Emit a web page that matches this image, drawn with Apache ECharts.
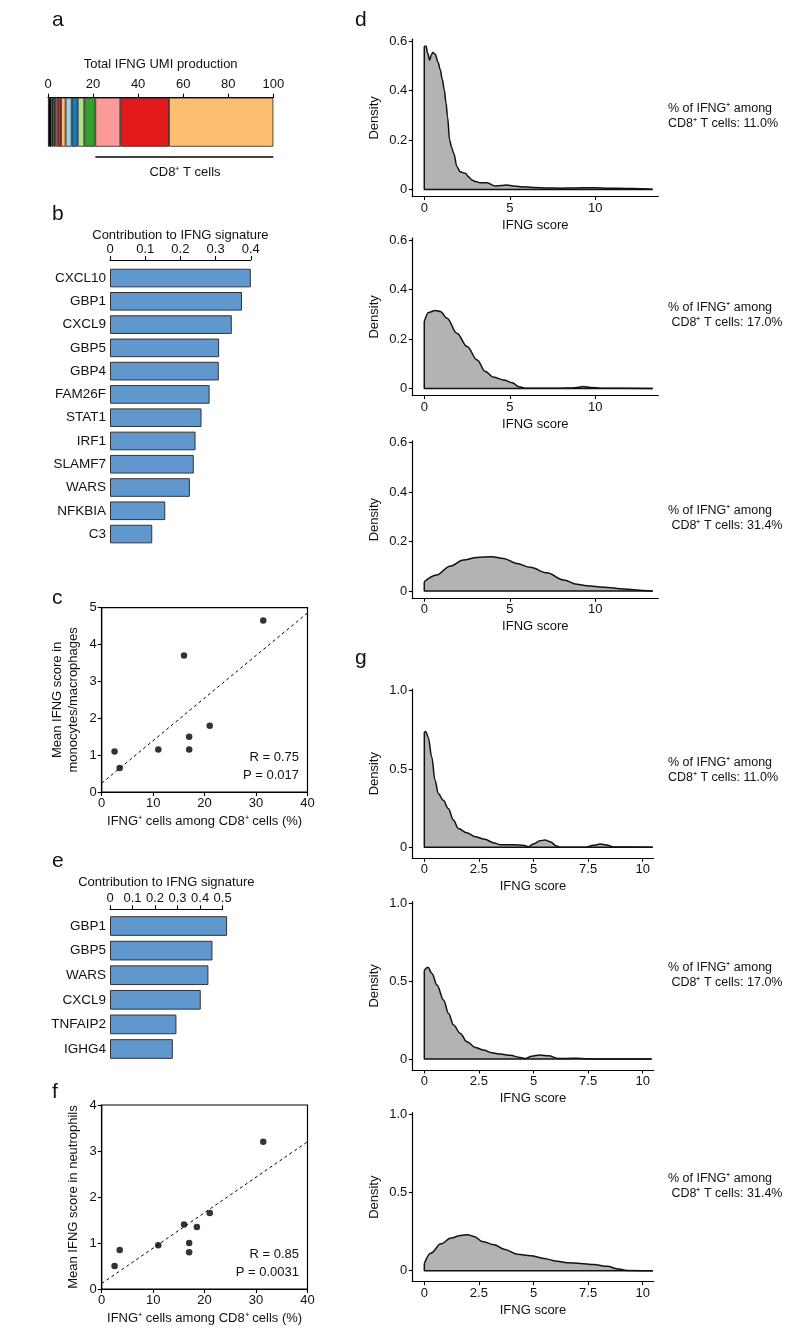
<!DOCTYPE html>
<html><head><meta charset="utf-8">
<script src="https://cdn.jsdelivr.net/npm/echarts@6/dist/echarts.min.js"></script>
<style>html,body{margin:0;padding:0;background:#fff}#c{width:800px;height:1334px}</style>
</head><body><div id="c"></div>
<script>
// ---------------- data ----------------
const aTicks = [0, 20, 40, 60, 80, 100];
const aShares = [1.5, 0.9, 1.0, 0.9, 1.5, 2.0, 2.7, 2.7, 2.9, 4.9, 11.1, 21.6, 46.3];
const aCD8Range = [21, 100];

const bGenes = ['CXCL10','GBP1','CXCL9','GBP5','GBP4','FAM26F','STAT1','IRF1','SLAMF7','WARS','NFKBIA','C3'];
const bValues = [0.400, 0.375, 0.346, 0.310, 0.309, 0.283, 0.260, 0.243, 0.238, 0.227, 0.157, 0.120];

const eGenes = ['GBP1','GBP5','WARS','CXCL9','TNFAIP2','IGHG4'];
const eValues = [0.520, 0.455, 0.437, 0.403, 0.295, 0.279];

const cPoints = [[2.5,1.1],[3.5,0.65],[11,1.15],[16,3.7],[17,1.5],[17,1.15],[21,1.8],[31.4,4.65]];
const fPoints = [[2.5,0.5],[3.5,0.85],[11,0.95],[16,1.4],[17,1.0],[17,0.8],[18.5,1.35],[21,1.65],[31.4,3.2]];
const cStats = ['R = 0.75', 'P = 0.017'];
const fStats = ['R = 0.85', 'P = 0.0031'];
const pctIFNG = ['11.0%', '17.0%', '31.4%'];

const dTicksX = [0, 5, 10];
const dTicksY = [0, 0.2, 0.4, 0.6];
const gTicksX = [0, 2.5, 5, 7.5, 10];
const gTicksY = [0, 0.5, 1.0];

const d1Density = [[0,0.577],[0.1,0.58],[0.2,0.55],[0.31,0.523],[0.42,0.545],[0.5,0.553],[0.64,0.546],[0.8,0.515],[0.94,0.483],[1.05,0.445],[1.17,0.402],[1.27,0.35],[1.36,0.294],[1.48,0.2],[1.6,0.17],[1.72,0.146],[1.91,0.092],[2.1,0.071],[2.4,0.065],[2.6,0.05],[2.79,0.038],[3.0,0.032],[3.27,0.027],[3.66,0.027],[4.15,0.0135],[4.5,0.016],[4.83,0.0175],[5.2,0.014],[5.6,0.011],[6.4,0.008],[7.2,0.006],[7.95,0.005],[8.8,0.006],[9.9,0.007],[10.8,0.005],[11.85,0.004],[12.6,0.003],[13.35,0.001]];
const d2Density = [[0,0.27],[0.25,0.307],[0.64,0.315],[0.94,0.311],[1.33,0.284],[1.91,0.223],[2.5,0.169],[3.09,0.115],[3.57,0.068],[4.06,0.045],[4.65,0.034],[5.14,0.023],[5.53,0.007],[5.92,0.0005],[7.97,0.001],[8.6,0.002],[8.95,0.004],[9.3,0.008],[9.7,0.004],[10.3,0.0005],[13.35,0]];
const d3Density = [[0,0.038],[0.72,0.065],[1.5,0.101],[2.29,0.126],[3.07,0.136],[3.95,0.139],[4.63,0.132],[5.41,0.112],[6.19,0.096],[7.17,0.074],[8.14,0.045],[8.93,0.028],[9.5,0.022],[10.5,0.016],[11.66,0.009],[12.83,0.003],[13.36,0]];
const g1Density = [[0,0.735],[0.06,0.74],[0.18,0.703],[0.34,0.576],[0.49,0.428],[0.64,0.343],[0.87,0.3],[1.1,0.248],[1.33,0.174],[1.56,0.121],[1.94,0.093],[2.32,0.068],[2.78,0.051],[3.16,0.03],[3.47,0.017],[4.08,0.017],[4.53,0.013],[4.76,0.004],[5.0,0.021],[5.3,0.042],[5.53,0.047],[5.76,0.036],[6.06,0.008],[6.2,0.001],[7.4,0.001],[7.74,0.013],[8.05,0.021],[8.35,0.015],[8.66,0.002],[10.46,0]];
const g2Density = [[0,0.57],[0.17,0.589],[0.35,0.55],[0.58,0.475],[0.88,0.379],[1.11,0.293],[1.34,0.218],[1.65,0.165],[1.95,0.111],[2.33,0.075],[2.71,0.058],[3.09,0.041],[3.48,0.032],[3.93,0.024],[4.39,0.011],[4.62,0.004],[4.92,0.019],[5.3,0.026],[5.69,0.021],[6.14,0.004],[6.52,0.004],[6.98,0.006],[7.44,0.002],[7.74,0],[10.41,0]];
const g3Density = [[0,0.045],[0.3,0.113],[0.76,0.172],[1.22,0.209],[1.67,0.226],[1.98,0.23],[2.28,0.219],[2.66,0.187],[3.2,0.166],[3.65,0.138],[4.26,0.106],[4.87,0.096],[5.48,0.079],[6.09,0.06],[6.54,0.051],[7.15,0.047],[7.76,0.04],[8.37,0.028],[8.9,0.011],[9.28,0.002],[10.47,0]];

// ---------------- styling ----------------
const aColors = ['#000000','#1f3d1f','#3a3a3a','#fb9a99','#e31a1c','#fdbf6f','#a6cee3','#1f78b4','#b2df8a','#33a02c','#fb9a99','#e31a1c','#fdbf6f'];
const FONT = '"Liberation Sans", Arial, Helvetica, sans-serif';
const BLUE = '#6097cd';
const GREY = '#b3b3b3';

const chart = echarts.init(document.getElementById('c'), null, {renderer: 'canvas'});
const grids = [], xAxes = [], yAxes = [], series = [], graphics = [];

const lineS = {show: true, onZero: false, lineStyle: {color: '#000', width: 1.2}};
const tickS = (len) => ({show: true, length: len, lineStyle: {color: '#000', width: 1.1}});
const lbl = (extra) => Object.assign({fontSize: 13, color: '#111', fontFamily: FONT}, extra || {});
const nameS = {fontSize: 13, color: '#111', fontFamily: FONT};

function addGrid(g) { grids.push(Object.assign({show: false}, g)); return grids.length - 1; }

// ---- panel a ----
const ga = addGrid({left: 48, top: 97.7, width: 225.3, height: 49});
xAxes.push({gridIndex: ga, type: 'value', position: 'top', min: aTicks[0], max: aTicks[aTicks.length-1], interval: aTicks[1]-aTicks[0],
  axisLine: lineS, axisTick: tickS(4), axisLabel: lbl({margin: 7}), splitLine: {show: false},
  name: 'Total IFNG UMI production', nameLocation: 'middle', nameGap: 27, nameTextStyle: nameS});
yAxes.push({gridIndex: ga, type: 'category', data: ['IFNG'], show: false});
aShares.forEach((v, i) => series.push({type: 'bar', xAxisIndex: xAxes.length-1, yAxisIndex: yAxes.length-1, stack: 'a',
  data: [v], barWidth: '100%', silent: true, itemStyle: {color: aColors[i], borderColor: '#222', borderWidth: 0.8}}));

const ga2 = addGrid({left: 48, top: 156, width: 225.3, height: 2});
xAxes.push({gridIndex: ga2, type: 'value', min: aTicks[0], max: aTicks[aTicks.length-1], show: false});
yAxes.push({gridIndex: ga2, type: 'value', min: -1, max: 1, show: false});
series.push({type: 'line', xAxisIndex: xAxes.length-1, yAxisIndex: yAxes.length-1, data: [[aCD8Range[0], 0], [aCD8Range[1], 0]],
  showSymbol: false, silent: true, lineStyle: {color: '#000', width: 1.5}});

// ---- horizontal bar panels (b, e) ----
function hbar(grid, genes, vals, max, offset, nameGap) {
  const gi = addGrid(grid);
  xAxes.push({gridIndex: gi, type: 'value', position: 'top', offset: offset, min: 0, max: max, interval: 0.1,
    axisLine: lineS, axisTick: tickS(4), axisLabel: lbl({margin: 4}), splitLine: {show: false},
    name: 'Contribution to IFNG signature', nameLocation: 'middle', nameGap: nameGap, nameTextStyle: nameS});
  yAxes.push({gridIndex: gi, type: 'category', data: genes, inverse: true,
    axisLine: {show: false}, axisTick: {show: false}, axisLabel: lbl({margin: 4, fontSize: 13.5})});
  series.push({type: 'bar', xAxisIndex: xAxes.length-1, yAxisIndex: yAxes.length-1, data: vals, barCategoryGap: '20%', clip: false,
    silent: true, itemStyle: {color: BLUE, borderColor: '#333', borderWidth: 1}});
}
hbar({left: 110, top: 266.4, width: 140.8, height: 279.3}, bGenes, bValues, 0.4, 6.4, 17);
hbar({left: 110, top: 913.7, width: 112.6, height: 147.6}, eGenes, eValues, 0.5, 4.4, 20);

// ---- scatter panels (c, f) ----
function regress(pts) {
  const n = pts.length;
  const mx = pts.reduce((s, p) => s + p[0], 0) / n, my = pts.reduce((s, p) => s + p[1], 0) / n;
  let sxy = 0, sxx = 0;
  pts.forEach(p => { sxy += (p[0]-mx)*(p[1]-my); sxx += (p[0]-mx)*(p[0]-mx); });
  const b = sxy / sxx; return [b, my - b*mx];
}
function scatterPanel(grid, pts, ymax, yname) {
  const gi = addGrid(Object.assign({show: true, borderColor: '#000', borderWidth: 1.2}, grid));
  xAxes.push({gridIndex: gi, type: 'value', min: 0, max: 40, interval: 10,
    axisLine: lineS, axisTick: tickS(4), axisLabel: lbl({margin: 5}), splitLine: {show: false},
    name: 'IFNG\u207A cells among CD8\u207A cells (%)', nameLocation: 'middle', nameGap: 23, nameTextStyle: nameS});
  yAxes.push({gridIndex: gi, type: 'value', min: 0, max: ymax, interval: 1,
    axisLine: lineS, axisTick: tickS(4), axisLabel: lbl({margin: 5}), splitLine: {show: false},
    name: yname, nameLocation: 'middle', nameGap: 20, nameRotate: 90, nameTextStyle: Object.assign({lineHeight: 16}, nameS)});
  const [b, a] = regress(pts);
  series.push({type: 'line', xAxisIndex: xAxes.length-1, yAxisIndex: yAxes.length-1, data: [[0, a], [40, a + 40*b]],
    showSymbol: false, silent: true, lineStyle: {color: '#000', width: 1, type: [3, 3]}});
  series.push({type: 'scatter', xAxisIndex: xAxes.length-1, yAxisIndex: yAxes.length-1, data: pts,
    symbolSize: 6.5, silent: true, itemStyle: {color: '#000'}});
}
scatterPanel({left: 101.7, top: 607.7, width: 205.8, height: 184.3}, cPoints, 5, 'Mean IFNG score in\nmonocytes/macrophages');
scatterPanel({left: 101.7, top: 1105, width: 205.8, height: 184}, fPoints, 4, 'Mean IFNG score in neutrophils');

// ---- density panels (d, g) ----
function densityPanel(grid, dens, xr, yr, xt, yt, yfmt) {
  const gi = addGrid(grid);
  xAxes.push({gridIndex: gi, type: 'value', min: xr[0], max: xr[1],
    axisLine: lineS, axisTick: Object.assign(tickS(3.5), {customValues: xt}),
    axisLabel: lbl({margin: 5, customValues: xt, formatter: v => String(v)}), splitLine: {show: false},
    name: 'IFNG score', nameLocation: 'middle', nameGap: 22, nameTextStyle: nameS});
  yAxes.push({gridIndex: gi, type: 'value', min: yr[0], max: yr[1],
    axisLine: lineS, axisTick: Object.assign(tickS(3.5), {customValues: yt}),
    axisLabel: lbl({margin: 5, customValues: yt, formatter: yfmt}), splitLine: {show: false},
    name: 'Density', nameLocation: 'middle', nameGap: 31, nameRotate: 90, nameTextStyle: nameS});
  const xi = xAxes.length-1, yi = yAxes.length-1;
  series.push({type: 'line', xAxisIndex: xi, yAxisIndex: yi, data: dens, showSymbol: false, silent: true,
    smooth: 0.35, smoothMonotone: 'x',
    lineStyle: {color: '#111', width: 1.5}, areaStyle: {color: GREY, opacity: 1, origin: 0}});
  const last = dens[dens.length-1];
  series.push({type: 'line', xAxisIndex: xi, yAxisIndex: yi, data: [[last[0], 0], [dens[0][0], 0], dens[0]],
    showSymbol: false, silent: true, lineStyle: {color: '#111', width: 1.5}});
}
const dFmt = v => v === 0 ? '0' : v.toFixed(1);
const dX = [-0.7, 13.68], dY = [-0.029, 0.607];
densityPanel({left: 412.3, top: 39.2, width: 246, height: 157.4}, d1Density, dX, dY, dTicksX, dTicksY, dFmt);
densityPanel({left: 412.3, top: 238.2, width: 246, height: 157.4}, d2Density, dX, dY, dTicksX, dTicksY, dFmt);
densityPanel({left: 412.3, top: 440.9, width: 246, height: 157.4}, d3Density, dX, dY, dTicksX, dTicksY, dFmt);
const gX = [-0.55, 10.5], gY = [-0.07, 1.01];
densityPanel({left: 412.3, top: 689.1, width: 241.3, height: 169.2}, g1Density, gX, gY, gTicksX, gTicksY, dFmt);
densityPanel({left: 412.3, top: 901.7, width: 241.3, height: 168.3}, g2Density, gX, gY, gTicksX, gTicksY, dFmt);
densityPanel({left: 412.3, top: 1112.7, width: 241.3, height: 169}, g3Density, gX, gY, gTicksX, gTicksY, dFmt);

// ---- text annotations ----
function txt(x, y, text, size, align) {
  graphics.push({type: 'text', x: x, y: y, silent: true,
    style: {text: text, fill: '#111', fontSize: size, fontFamily: FONT, align: align || 'left', verticalAlign: 'middle', lineHeight: size + 3}});
}
const letters = [['a', 52, 20], ['b', 52, 214], ['c', 52, 598], ['e', 52, 861], ['f', 52, 1092], ['d', 355, 20], ['g', 355, 658]];
letters.forEach(l => txt(l[1], l[2], l[0], 21));
txt(185, 172, 'CD8\u207A T cells', 13, 'center');
txt(299, 757, cStats[0], 13, 'right'); txt(299, 775, cStats[1], 13, 'right');
txt(299, 1254, fStats[0], 13, 'right'); txt(299, 1272, fStats[1], 13, 'right');
const pctY = [116, 315, 518, 770, 975, 1186];
pctY.forEach((y, i) => {
  const p = pctIFNG[i % 3];
  const lead = (i % 3 === 0) ? '' : ' ';
  txt(668, y, '% of IFNG\u207A among\n' + lead + 'CD8\u207A T cells: ' + p, 12.5, 'left');
});

chart.setOption({
  backgroundColor: '#fff',
  animation: false,
  textStyle: {fontFamily: FONT},
  grid: grids, xAxis: xAxes, yAxis: yAxes, series: series, graphic: graphics
});
</script></body></html>
